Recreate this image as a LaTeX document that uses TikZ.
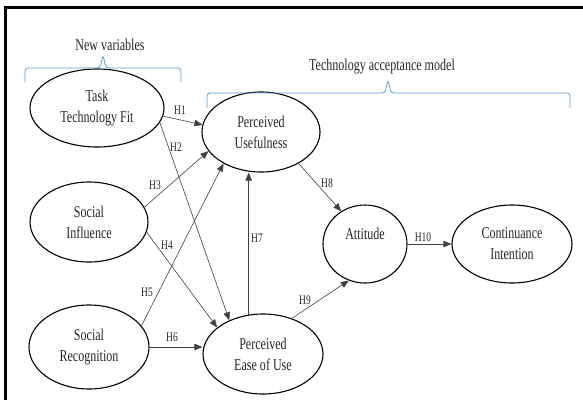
\documentclass[tikz,border=0pt]{standalone}
\usepackage{fontspec}
\setmainfont[FakeStretch=0.73]{Liberation Serif}
\usetikzlibrary{shapes.geometric, arrows.meta, positioning}
\definecolor{bracecol}{RGB}{91,155,213}

\begin{document}
\begin{tikzpicture}[x=1pt, y=-1pt,
    construct/.style={ellipse, draw, line width=1.1pt, inner sep=0pt, align=center,
      font=\fontsize{16.5}{21}\selectfont, text=black!85},
    hyp/.style={font=\fontsize{13}{14}\selectfont, text=black!85, inner sep=1pt},
    link/.style={draw=black!75, line width=0.6pt, -{Triangle[length=8pt,width=6.5pt]}},
    group/.style={draw=bracecol, line width=0.8pt, rounded corners=3pt},
    grouplabel/.style={font=\fontsize{16.5}{18}\selectfont, text=black!85}]

  \useasboundingbox (0,0) rectangle (583,400);
  \draw[line width=3pt] (5.5,400) -- (5.5,7.5) -- (583,7.5);

  % constructs
  \node[construct, minimum width=134pt, minimum height=78pt] (ttf) at (97,108) {Task\\Technology Fit};
  \node[construct, minimum width=118pt, minimum height=80pt] (si) at (89,222) {Social\\Influence};
  \node[construct, minimum width=120pt, minimum height=84pt] (sr) at (89,347) {Social\\Recognition};
  \node[construct, minimum width=118pt, minimum height=80pt] (pu) at (261,132) {Perceived\\Usefulness};
  \node[construct, minimum width=120pt, minimum height=80pt] (peu) at (263,354) {Perceived\\Ease of Use};
  \node[construct, minimum width=84pt, minimum height=78pt] (att) at (365,244) {Attitude\\ \mbox{}};
  \node[construct, minimum width=120pt, minimum height=78pt] (ci) at (512,244) {Continuance\\Intention};

  % groups
  \node[grouplabel] (newvar) at (110,45) {New variables};
  \draw[group] (25,82) -- (25,68) -- (100,68) -- (103,55) -- (106,68) -- (181,68) -- (181,82);
  \node[grouplabel] (tam) at (382,67) {Technology acceptance model};
  \draw[group] (207,108) -- (207,93) -- (385,93) -- (388,80) -- (391,93) -- (570,93) -- (570,108);

  % hypotheses
  \draw[link] (ttf.-7) -- (pu.173);
  \draw[link] (ttf.-13) -- (peu.135);
  \draw[link] (si.15) -- (pu.200);
  \draw[link] (si.-10) -- (peu.150);
  \draw[link] (sr.22) -- (pu.220);
  \draw[link] (sr.east) -- (sr.east -| peu.west);
  \draw[link] (peu.110) -- (peu.110 |- pu.south);
  \draw[link] (pu.-40) -- (att.126);
  \draw[link] (peu.51) -- (att.246);
  \draw[link] (att.east) -- (ci.west);

  \node[hyp] (h1) at (180,110) {H1};
  \node[hyp] (h2) at (176,147) {H2};
  \node[hyp] (h3) at (155,185) {H3};
  \node[hyp] (h4) at (167,245) {H4};
  \node[hyp] (h5) at (147,292) {H5};
  \node[hyp] (h6) at (172,337) {H6};
  \node[hyp] (h7) at (257,238) {H7};
  \node[hyp] (h8) at (327,183) {H8};
  \node[hyp] (h9) at (305,300) {H9};
  \node[hyp] (h10) at (423,237) {H10};
\end{tikzpicture}
\end{document}
